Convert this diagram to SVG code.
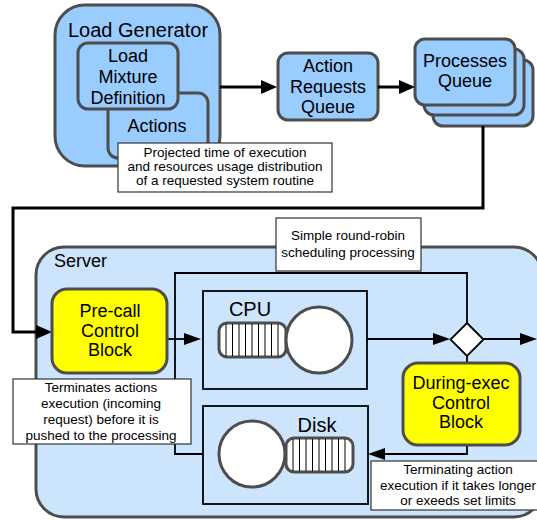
<svg xmlns="http://www.w3.org/2000/svg" width="537" height="520" viewBox="0 0 537 520">
<defs>
<style>
text{font-family:"Liberation Sans",Arial,sans-serif;fill:#000;text-anchor:middle}
.n{font-size:18px}
.big{font-size:20px}
.c{font-size:13.5px}
.blue{fill:#99ccff;stroke:#4d4d4d;stroke-width:3}
.yel{fill:#ffff00;stroke:#4d4d4d;stroke-width:3}
.srv{fill:#cce4fc;stroke:#4d4d4d;stroke-width:3}
.box{fill:none;stroke:#000;stroke-width:1.8}
.call{fill:#fff;stroke:#333;stroke-width:1.2}
.thick{fill:none;stroke:#000;stroke-width:3}
.thin{fill:none;stroke:#000;stroke-width:1.8}
.wh{fill:#fff;stroke:#4d4d4d;stroke-width:3}
.q{fill:#fff;stroke:#4d4d4d;stroke-width:3}
.ql{stroke:#000;stroke-width:1}
</style>
<marker id="ah" viewBox="0 0 16 14" refX="6" refY="7" markerWidth="16" markerHeight="14" markerUnits="userSpaceOnUse" orient="auto">
<path d="M0,0 L16,7 L0,14 z" fill="#000"/>
</marker>
<marker id="as" viewBox="0 0 17 12" refX="7" refY="6" markerWidth="17" markerHeight="12" markerUnits="userSpaceOnUse" orient="auto">
<path d="M0,0 L17,6 L0,12 z" fill="#000"/>
</marker>
</defs>

<g id="load-generator">
<rect class="blue" x="55" y="5" width="165" height="161" rx="30"/>
<text class="big" x="138" y="37">Load Generator</text>
</g>
<g id="actions">
<rect class="blue" x="108" y="93" width="100" height="65" rx="10"/>
<text class="n" x="157" y="132">Actions</text>
</g>
<g id="load-mixture">
<rect class="blue" x="78" y="43" width="100" height="66" rx="10"/>
<text class="n" x="128" y="62">Load</text>
<text class="n" x="128" y="83">Mixture</text>
<text class="n" x="128" y="104">Definition</text>
</g>
<g id="action-requests-queue">
<rect class="blue" x="278" y="53" width="100" height="67" rx="10"/>
<text class="n" x="328" y="72">Action</text>
<text class="n" x="328" y="93">Requests</text>
<text class="n" x="328" y="113">Queue</text>
</g>
<g id="processes-queue">
<rect class="blue" x="433" y="60" width="100" height="66" rx="10"/>
<rect class="blue" x="424" y="49" width="100" height="66" rx="10"/>
<rect class="blue" x="415" y="39" width="100" height="66" rx="10"/>
<text class="n" x="465" y="67">Processes</text>
<text class="n" x="465" y="87">Queue</text>
</g>

<g id="server">
<rect class="srv" x="36" y="247" width="506" height="270" rx="28"/>
<text class="n" x="54" y="267" style="text-anchor:start">Server</text>
</g>

<g id="connectors">
<path class="thick" d="M220,87 H267" marker-end="url(#ah)"/>
<path class="thick" d="M378,87 H405" marker-end="url(#ah)"/>
<path class="thick" d="M483,126 V208 H13 V332 H42" marker-end="url(#ah)"/>
<path class="thin" d="M167,339 H191" marker-end="url(#as)"/>
<path class="thin" d="M203,454 H175 V273 H467 V323"/>
<path class="thin" d="M367,339 H440" marker-end="url(#as)"/>
<path class="thin" d="M483,339 H527" marker-end="url(#as)"/>
<path class="thin" d="M467,356 V363"/>
<path class="thin" d="M467,445 V454 H378" marker-end="url(#as)"/>
</g>

<g id="pre-call">
<rect class="yel" x="52" y="289" width="115" height="84" rx="15"/>
<text class="n" x="110" y="317">Pre-call</text>
<text class="n" x="110" y="337">Control</text>
<text class="n" x="110" y="356">Block</text>
</g>
<g id="cpu">
<rect class="box" x="203" y="291" width="164" height="98"/>
<text class="big" x="250" y="316">CPU</text>
<rect class="q" x="219" y="323" width="67" height="34" rx="8"/>
<path class="ql" d="M226,324V356M232.5,324V356M239,324V356M245.5,324V356M252,324V356M258.5,324V356M265,324V356M271.5,324V356M278,324V356"/>
<circle class="wh" cx="319" cy="340" r="33"/>
</g>
<g id="disk">
<rect class="box" x="203" y="406" width="165" height="98"/>
<text class="big" x="317" y="432">Disk</text>
<rect class="q" x="286" y="438" width="67" height="34" rx="8"/>
<path class="ql" d="M293,439V471M299.5,439V471M306,439V471M312.5,439V471M319,439V471M325.5,439V471M332,439V471M338.5,439V471M345,439V471"/>
<circle class="wh" cx="252" cy="454" r="33"/>
</g>
<g id="decision">
<path d="M467,323 L483.5,339.5 L467,356 L450.5,339.5 Z" fill="#fff" stroke="#000" stroke-width="1.8"/>
</g>
<g id="during-exec">
<rect class="yel" x="403" y="363" width="117" height="82" rx="15"/>
<text class="n" x="461" y="389">During-exec</text>
<text class="n" x="461" y="409">Control</text>
<text class="n" x="461" y="428">Block</text>
</g>

<g id="note-projected">
<rect class="call" x="118" y="143" width="214" height="49"/>
<text class="c" x="225" y="157">Projected time of execution</text>
<text class="c" x="225" y="171">and resources usage distribution</text>
<text class="c" x="225" y="185">of a requested system routine</text>
</g>
<g id="note-roundrobin">
<rect class="call" x="276" y="218" width="145" height="53"/>
<text class="c" x="348" y="240">Simple round-robin</text>
<text class="c" x="348" y="257">scheduling processing</text>
</g>
<g id="note-terminates">
<rect class="call" x="13" y="379" width="178" height="65"/>
<text class="c" x="101" y="392">Terminates actions</text>
<text class="c" x="101" y="408">execution (incoming</text>
<text class="c" x="101" y="424">request) before it is</text>
<text class="c" x="101" y="440">pushed to the processing</text>
</g>
<g id="note-terminating">
<rect class="call" x="371" y="461" width="175" height="49"/>
<text class="c" x="458" y="474">Terminating action</text>
<text class="c" x="458" y="490">execution if it takes longer</text>
<text class="c" x="458" y="505">or exeeds set limits</text>
</g>
</svg>
